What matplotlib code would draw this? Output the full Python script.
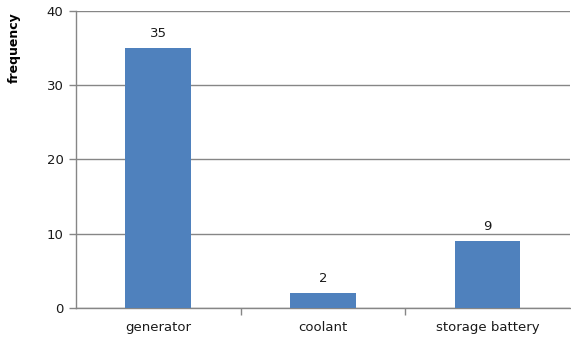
import matplotlib.pyplot as plt

categories = ['generator', 'coolant', 'storage battery']
counts = [35, 2, 9]

fig = plt.figure(figsize=(5.71, 3.40), dpi=100)
ax = fig.add_axes([0.133, 0.094, 0.865, 0.874])

x = range(len(categories))
bars = ax.bar(x, counts, width=0.4, color='#4F81BD', zorder=3)

for b, v in zip(bars, counts):
    ax.text(b.get_x() + b.get_width() / 2, v + 1.1, str(v),
            ha='center', va='bottom', fontsize=9.5, color='#1a1a1a')

ax.set_xlim(-0.5, len(categories) - 0.5)
ax.set_ylim(0, 40)
ax.set_yticks([0, 10, 20, 30, 40])
ax.yaxis.grid(True, color='#868686', linewidth=1, zorder=0)

ax.set_xticks(x)
ax.set_xticklabels(categories, fontsize=9.5, color='#1a1a1a')
ax.tick_params(axis='x', length=0, pad=9)
ax.set_xticks([i + 0.5 for i in range(len(categories) - 1)], minor=True)
ax.tick_params(axis='x', which='minor', length=5, color='#868686', width=1)
ax.tick_params(axis='y', length=5, color='#868686', width=1, labelsize=9.5,
               labelcolor='#1a1a1a', pad=4)

for s in ['top', 'right']:
    ax.spines[s].set_visible(False)
for s in ['left', 'bottom']:
    ax.spines[s].set_color('#868686')
    ax.spines[s].set_linewidth(1)

# label sits near the top of the axis, as in Excel
ax.set_ylabel('frequency', fontsize=9, fontweight='bold')
ax.yaxis.set_label_coords(-0.112, 0.875)

fig.savefig('out.png', dpi=100)
